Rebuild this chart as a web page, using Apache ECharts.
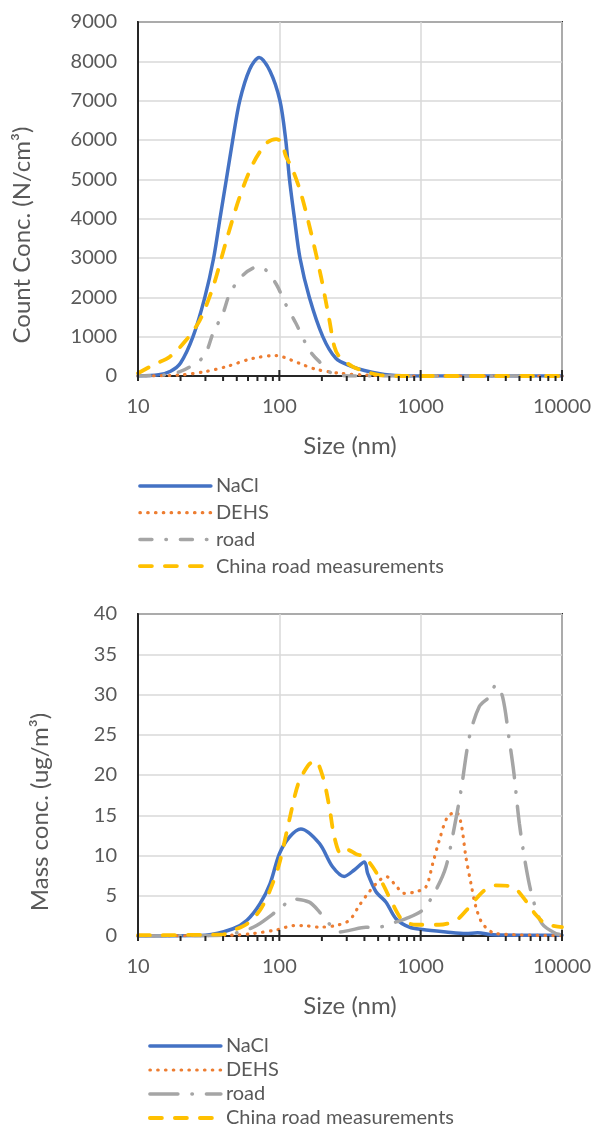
<!DOCTYPE html>
<html>
<head>
<meta charset="utf-8">
<script src="https://cdn.jsdelivr.net/npm/echarts@6/dist/echarts.min.js"></script>
<style>
html,body{margin:0;padding:0;background:#fff;}
#chart{width:595px;height:1126px;}
</style>
</head>
<body>
<div id="chart"></div>
<script>
// ---------- tick labels / axes ----------
const xTickLabels = [10, 100, 1000, 10000];
const xMinorTicks = [20,30,40,50,60,70,80,90,200,300,400,500,600,700,800,900,2000,3000,4000,5000,6000,7000,8000,9000];
const seriesNames = ['NaCl', 'DEHS', 'road', 'China road measurements'];

// ---------- top panel: count concentration ----------
const countNaClSize  = [10, 14, 17, 20, 24.5, 29.7, 34.3, 38, 42.2, 46.8, 52.5, 61.7, 72, 86, 101, 111, 118, 128, 140, 163, 203, 251, 320, 400, 600, 1000, 10000];
const countNaClValue = [0, 30, 120, 330, 1000, 2000, 3000, 4000, 5000, 6000, 7000, 7800, 8100, 7750, 7000, 6000, 5000, 4000, 3000, 2000, 1000, 450, 250, 140, 25, 0, 0];

const countDEHSSize  = [10, 19.8, 29.7, 42.3, 65.4, 95.6, 108, 139, 182, 266, 410, 700, 10000];
const countDEHSValue = [0, 25, 110, 240, 450, 520, 475, 320, 170, 70, 25, 0, 0];

const countRoadSize  = [10, 15, 19.8, 25, 29.7, 34, 40, 44.7, 55.5, 71, 80, 95.6, 110, 131, 163, 192, 251, 400, 10000];
const countRoadValue = [0, 20, 110, 300, 530, 1090, 1600, 2100, 2570, 2780, 2700, 2320, 1850, 1340, 660, 365, 25, 0, 0];

const countChinaSize  = [10, 12.8, 16.8, 22, 27.4, 34, 42.3, 52.5, 65.4, 81.3, 95, 104, 111, 124, 142, 168, 197, 226, 245, 266, 330, 410, 510, 700, 10000];
const countChinaValue = [70, 280, 490, 920, 1420, 2270, 3460, 4560, 5410, 5920, 6020, 5950, 5600, 5250, 4650, 3630, 2530, 1420, 750, 490, 240, 110, 25, 0, 0];

// ---------- bottom panel: mass concentration ----------
const massNaClSize  = [10, 30, 47, 59, 73, 86, 100, 118, 142, 192, 238, 288, 339, 400, 422, 483, 569, 669, 832, 1030, 1510, 2090, 2530, 3240, 10000];
const massNaClValue = [0, 0.1, 0.9, 1.95, 4.0, 6.5, 10.2, 12.3, 13.3, 11.5, 8.6, 7.4, 8.2, 9.2, 7.75, 5.5, 4.2, 2.15, 1.1, 0.8, 0.5, 0.3, 0.4, 0.15, 0.08];

const massDEHSSize  = [10, 47, 65, 98, 126, 146, 192, 251, 313, 368, 433, 510, 569, 651, 766, 927, 1090, 1217, 1355, 1550, 1780, 1930, 2090, 2270, 2460, 2750, 3410, 10000];
const massDEHSValue = [0, 0.1, 0.3, 0.8, 1.3, 1.3, 1.1, 1.3, 1.95, 3.8, 5.5, 6.9, 7.4, 6.5, 5.3, 5.5, 6.1, 9.0, 11.9, 14.8, 15.4, 14.0, 9.8, 6.5, 3.6, 1.5, 0.3, 0.05];

const massRoadSize  = [10, 40, 52.6, 69, 101, 126, 163, 192, 226, 266, 313, 410, 483, 600, 787, 1030, 1280, 1510, 1730, 1930, 2210, 2600, 3060, 3410, 3800, 4240, 4570, 4990, 5560, 6170, 7240, 9070, 10000];
const massRoadValue = [0, 0.1, 0.5, 1.3, 3.4, 4.6, 4.2, 3.0, 1.5, 0.5, 0.7, 1.1, 1.0, 1.5, 2.15, 3.2, 5.7, 8.6, 13.5, 18.1, 24.7, 28.5, 29.7, 31.2, 29.7, 24.3, 20.2, 14.0, 8.6, 4.85, 1.5, 0.3, 0.2];

const massChinaSize  = [10, 40, 47, 59, 73, 86, 100, 119, 136, 160, 179, 203, 226, 245, 273, 304, 348, 400, 457, 538, 633, 746, 927, 1350, 1780, 2210, 2750, 3390, 4470, 5560, 6550, 7700, 10000];
const massChinaValue = [0.1, 0.2, 0.7, 1.5, 3.2, 5.7, 9.0, 14.8, 18.9, 21.2, 21.8, 19.8, 16.0, 12.3, 10.2, 10.7, 10.2, 9.8, 8.6, 6.5, 4.0, 1.95, 1.4, 1.4, 1.95, 3.6, 5.5, 6.3, 6.1, 4.35, 2.6, 1.5, 1.1];

// ---------- build ----------
const FONT = 'Lato';
const TXT = '#595959';
const DARK = '#262626';
const GRIDC = '#D9D9D9';
const COLORS = ['#4472C4', '#ED7D31', '#A5A5A5', '#FFC000'];

function zip(xs, ys) { return xs.map((x, i) => [x, ys[i]]); }

const styleTop = [
  { color: COLORS[0], width: 3.5, type: 'solid', cap: 'round' },
  { color: COLORS[1], width: 3.2, type: [0.5, 7.3], cap: 'round' },
  { color: COLORS[2], width: 3.5, type: [12, 14, 0.5, 14], cap: 'round' },
  { color: COLORS[3], width: 3.8, type: [12, 13], cap: 'round' }
];
const styleBottom = [
  { color: COLORS[0], width: 3.5, type: 'solid', cap: 'round' },
  { color: COLORS[1], width: 3.2, type: [0.5, 7.3], cap: 'round' },
  { color: COLORS[2], width: 3.5, type: [28, 14, 0.5, 14], cap: 'round' },
  { color: COLORS[3], width: 3.8, type: [12, 13], cap: 'round' }
];

const topData = [zip(countNaClSize, countNaClValue), zip(countDEHSSize, countDEHSValue), zip(countRoadSize, countRoadValue), zip(countChinaSize, countChinaValue)];
const bottomData = [zip(massNaClSize, massNaClValue), zip(massDEHSSize, massDEHSValue), zip(massRoadSize, massRoadValue), zip(massChinaSize, massChinaValue)];

const series = [];
seriesNames.forEach((n, i) => {
  series.push({
    name: n, type: 'line', xAxisIndex: 0, yAxisIndex: 0,
    data: topData[i], smooth: 0.3, symbol: 'none', showSymbol: false,
    lineStyle: styleTop[i], itemStyle: { color: styleTop[i].color },
    z: 3 + i, animation: false
  });
});
seriesNames.forEach((n, i) => {
  series.push({
    name: n + ' ', type: 'line', xAxisIndex: 1, yAxisIndex: 1,
    data: bottomData[i], smooth: 0.3, symbol: 'none', showSymbol: false,
    lineStyle: styleBottom[i], itemStyle: { color: styleBottom[i].color },
    z: 3 + i, animation: false
  });
});

// axis tick marks (crossing major ticks, outside minor ticks)
function tickSeries(ax) {
  const all = xTickLabels.concat(xMinorTicks);
  return {
    type: 'custom', xAxisIndex: ax, yAxisIndex: ax, silent: true, z: 10, animation: false,
    clip: false,
    data: all.map(v => [v, 0, xTickLabels.indexOf(v) >= 0 ? 1 : 0]),
    renderItem: function (params, api) {
      const p = api.coord([api.value(0), 0]);
      const major = api.value(2) === 1;
      return {
        type: 'line',
        shape: { x1: p[0], y1: p[1] - (major ? 6 : 0), x2: p[0], y2: p[1] + 5 },
        style: { stroke: DARK, lineWidth: 2 }
      };
    }
  };
}
series.push(tickSeries(0));
series.push(tickSeries(1));

function xAxis(gi) {
  return {
    type: 'log', logBase: 10, min: 10, max: 10000, gridIndex: gi,
    name: 'Size (nm)', nameLocation: 'middle', nameGap: 58,
    nameTextStyle: { fontFamily: FONT, fontSize: 24, color: TXT },
    axisLine: { show: true, onZero: false, lineStyle: { color: DARK, width: 2 } },
    axisTick: { show: false },
    minorTick: { show: false },
    axisLabel: { fontFamily: FONT, fontSize: 20, color: TXT, margin: 21, showMinLabel: true, showMaxLabel: true,
                 formatter: v => String(Math.round(v)) },
    splitLine: { show: true, lineStyle: { color: GRIDC, width: 1.5 } }
  };
}
function yAxis(gi, max, interval) {
  return {
    type: 'value', min: 0, max: max, interval: interval, gridIndex: gi,
    axisLine: { show: true, lineStyle: { color: DARK, width: 2 } },
    axisTick: { show: false },
    axisLabel: { fontFamily: FONT, fontSize: 20, color: TXT, margin: 21, formatter: v => String(v) },
    splitLine: { show: true, lineStyle: { color: GRIDC, width: 1.5 } }
  };
}

const legendCommon = {
  orient: 'vertical', itemWidth: 71, itemHeight: 20,
  textStyle: { fontFamily: FONT, fontSize: 20, color: TXT },
  lineStyle: { width: 'inherit' },
  itemStyle: { opacity: 0, color: 'rgba(0,0,0,0)', borderWidth: 0 },
  formatter: n => n.trim(),
  selectedMode: false,
  padding: 0,
  height: 150
};

const option = {
  backgroundColor: '#ffffff',
  animation: false,
  grid: [
    { left: 138, top: 22, width: 424, height: 354, show: true, borderColor: DARK, borderWidth: 2, backgroundColor: 'transparent' },
    { left: 138, top: 614, width: 424, height: 322, show: true, borderColor: DARK, borderWidth: 2, backgroundColor: 'transparent' }
  ],
  xAxis: [xAxis(0), xAxis(1)],
  yAxis: [yAxis(0, 9000, 1000), yAxis(1, 40, 5)],
  legend: [
    Object.assign({}, legendCommon, { left: 138, top: 476, itemGap: 6.7, data: seriesNames }),
    Object.assign({}, legendCommon, { left: 148, top: 1036, itemGap: 4, data: seriesNames.map(n => n + ' ') })
  ],
  graphic: [
    { type: 'text', x: 22, y: 235, rotation: Math.PI / 2,
      style: { text: 'Count Conc. (N/cm³)', fontFamily: FONT, fontSize: 24, fill: TXT, align: 'center', verticalAlign: 'middle' } },
    { type: 'text', x: 40, y: 812, rotation: Math.PI / 2,
      style: { text: 'Mass conc. (ug/m³)', fontFamily: FONT, fontSize: 24, fill: TXT, align: 'center', verticalAlign: 'middle' } }
  ],
  series: series
};

const chart = echarts.init(document.getElementById('chart'), null, { renderer: 'canvas' });
chart.setOption(option);
</script>
</body>
</html>
